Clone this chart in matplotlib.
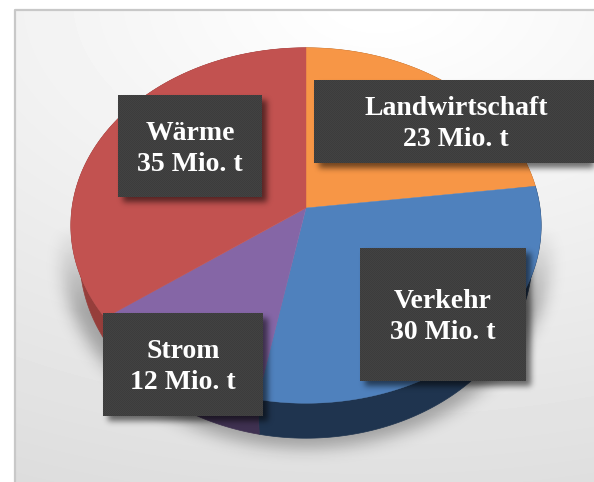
import matplotlib
matplotlib.use('Agg')
import matplotlib.pyplot as plt
from matplotlib.patches import Polygon, Rectangle
import numpy as np

labels = ['Landwirtschaft', 'Verkehr', 'Strom', 'Wärme']
values = [23, 30, 12, 35]
unit = 'Mio. t'
top_colors = ['#F79646', '#4F81BD', '#8566A6', '#C25250']
side_colors = ['#A8642C', '#1F344F', '#3F3151', '#963E3B']

W, H = 594, 482
cx, cy = 306, 208      # pie centre on screen
rx, ry = 234, 176      # radius across and along the view
persp = 0.0986
depth = 31.5
shrink = 0.962         # the lower rim is further from the viewer

fig = plt.figure(figsize=(W / 100, H / 100), dpi=100)
ax = fig.add_axes([0, 0, 1, 1])
ax.set_xlim(0, W)
ax.set_ylim(H, 0)
ax.axis('off')

yy, xx = np.mgrid[0:H, 0:W] + 0.5


def blur(a, sigma):
    n = int(sigma * 3)
    k = np.exp(-0.5 * (np.arange(-n, n + 1) / sigma) ** 2)
    k /= k.sum()
    a = np.apply_along_axis(lambda r: np.convolve(r, k, mode='same'), 0, a)
    a = np.apply_along_axis(lambda r: np.convolve(r, k, mode='same'), 1, a)
    return a


def shadow(mask, sigma, strength, z):
    a = blur(mask.astype(float), sigma) * strength
    rgba = np.zeros((H, W, 4))
    rgba[..., 3] = a
    ax.imshow(rgba, extent=(0, W, H, 0), zorder=z, aspect='auto')


def rim(theta, drop=0.0, scale=1.0):
    u, v = np.sin(theta), np.cos(theta)
    s = 1 / (1 + persp * v)
    return np.column_stack([cx + rx * u * s * scale, cy + (drop - ry * v) * s])


# background
d = np.hypot((xx - 380) / 800, yy / 470)
bg = np.clip(1.0 - 0.125 * np.clip(d - 0.04, 0, None), 0, 1.0)
ax.imshow(bg, extent=(0, W, H, 0), cmap='gray', vmin=0, vmax=1, zorder=0, aspect='auto')
ax.add_patch(Rectangle((-5, -5), W + 10, 14, fc='white', ec='none', zorder=1))
ax.add_patch(Rectangle((-5, -5), 19, H + 10, fc='white', ec='none', zorder=1))
ax.plot([14.5, 14.5, W + 5], [H + 5, 9.5, 9.5], color='#C8C8C8', lw=1.6, zorder=2)

# shadow under the pie, fading out towards the top
m = ((xx - 306) / 245) ** 2 + ((yy - 252) / 196) ** 2 < 1
a = blur(m.astype(float), 8) * 0.3 * np.clip((yy - 225) / 85, 0, 1)
ax.imshow(np.dstack([np.zeros((H, W, 3)), a]), extent=(0, W, H, 0), zorder=3, aspect='auto')

shares = np.array(values) / sum(values) * 2 * np.pi
starts = np.concatenate([[0], np.cumsum(shares)[:-1]])

# sides first, then the top faces
for st, sh, col in zip(starts, shares, side_colors):
    t = np.linspace(st, st + sh, 120)
    ax.add_patch(Polygon(np.vstack([rim(t), rim(t[::-1], depth, shrink)]), fc=col, ec=col, lw=0.5, zorder=4))
for st, sh, col in zip(starts, shares, top_colors):
    t = np.linspace(st, st + sh, 200)
    ax.add_patch(Polygon(np.vstack([[cx, cy], rim(t)]), fc=col, ec=col, lw=0.3, zorder=5))

# label boxes
boxes = [(314, 80, 300, 83), (360, 248, 166, 133), (103, 313, 160, 103), (118, 95, 144, 102)]
text_pos = [(456, 124), (443, 317), (183, 367), (190, 149)]
m = np.zeros((H, W), bool)
inside = np.zeros((H, W), bool)
for x, y, w, h in boxes:
    m |= (xx > x + 5) & (xx < x + w + 5) & (yy > y + 5) & (yy < y + h + 5)
    inside |= (xx > x) & (xx < x + w) & (yy > y) & (yy < y + h)
shadow(m, 3, 0.55, 6)

# fine weave of the box fill
weave = 0.25 + 0.012 * ((np.floor(xx) + np.floor(yy)) % 2 * 2 - 1)
rgba = np.dstack([weave, weave, weave, inside.astype(float)])
ax.imshow(rgba, extent=(0, W, H, 0), zorder=7, aspect='auto', interpolation='nearest')

for (tx, ty), lab, val in zip(text_pos, labels, values):
    ax.text(tx, ty, f'{lab}\n{val} {unit}', color='white', ha='center', va='center',
            family='Liberation Serif', weight='bold', fontsize=20, linespacing=1.27, zorder=8)

ax.set_xlim(0, W)
ax.set_ylim(H, 0)
fig.savefig('out.png', dpi=100)
